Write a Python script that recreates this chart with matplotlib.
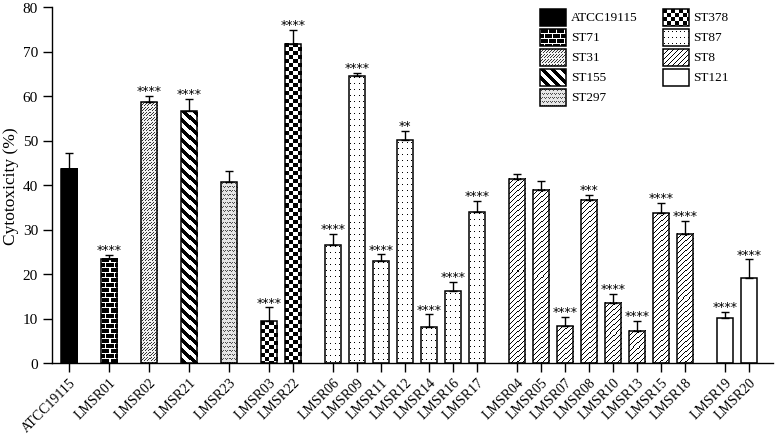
import numpy as np
import matplotlib
matplotlib.use('Agg')
import matplotlib.pyplot as plt
from matplotlib.patches import Rectangle

plt.rcParams['font.family'] = ['Liberation Serif', 'DejaVu Serif']

# ---------------- data ----------------
strains = ['ATCC19115', 'LMSR01', 'LMSR02', 'LMSR21', 'LMSR23', 'LMSR03', 'LMSR22',
           'LMSR06', 'LMSR09', 'LMSR11', 'LMSR12', 'LMSR14', 'LMSR16', 'LMSR17',
           'LMSR04', 'LMSR05', 'LMSR07', 'LMSR08', 'LMSR10', 'LMSR13', 'LMSR15', 'LMSR18',
           'LMSR19', 'LMSR20']
cytotoxicity = [43.7, 23.4, 58.6, 56.6, 40.6, 9.4, 71.7,
                26.6, 64.6, 23.0, 50.1, 8.2, 16.1, 34.0,
                41.4, 38.9, 8.3, 36.7, 13.5, 7.3, 33.7, 29.1,
                10.1, 19.2]
sd = [3.6, 0.9, 1.4, 2.7, 2.5, 3.1, 3.2,
      2.4, 0.6, 1.4, 2.1, 2.7, 2.1, 2.4,
      1.1, 1.9, 2.1, 1.1, 2.0, 2.2, 2.3, 2.8,
      1.4, 4.1]
sequence_types = ['ATCC19115', 'ST71', 'ST31', 'ST155', 'ST297', 'ST378', 'ST378',
                  'ST87', 'ST87', 'ST87', 'ST87', 'ST87', 'ST87', 'ST87',
                  'ST8', 'ST8', 'ST8', 'ST8', 'ST8', 'ST8', 'ST8', 'ST8',
                  'ST121', 'ST121']
significance = ['', '****', '****', '****', '', '****', '****',
                '****', '****', '****', '**', '****', '****', '****',
                '', '', '****', '***', '****', '****', '****', '****',
                '****', '****']
legend_col1 = ['ATCC19115', 'ST71', 'ST31', 'ST155', 'ST297']
legend_col2 = ['ST378', 'ST87', 'ST8', 'ST121']
y_ticks = [0, 10, 20, 30, 40, 50, 60, 70, 80]


# ---------------- textures ----------------
def texture(kind, nr, nc):
    nr = max(int(round(nr)), 1)
    nc = max(int(round(nc)), 1)
    r, c = np.mgrid[0:nr, 0:nc]
    arr = np.ones((nr, nc))
    if kind == 'ATCC19115':
        arr[:] = 0.0
    elif kind == 'ST71':
        arr[:] = 0.0
        course = r // 5
        arr[(r % 5) == 4] = 1.0
        arr[((c + (course % 2) * 4) % 8) == 0] = 1.0
    elif kind == 'ST31':
        m = ((r + c) % 3 == 0) & ((r % 5) != 4)
        arr[m] = 0.2
        arr[~m] = 0.95
    elif kind == 'ST155':
        arr[((c - r) % 10) < 5] = 0.0
    elif kind == 'ST297':
        rr = r % 4
        cc = (c + (r // 4 % 2) * 2) % 4
        m = ((rr == 0) & ((cc == 0) | (cc == 2))) | ((rr == 1) & (cc == 1))
        arr[m] = 0.3
        arr[~m] = 0.9
    elif kind == 'ST378':
        arr = ((r // 4 + c // 4) % 2).astype(float)
    elif kind == 'ST87':
        arr[((r % 6) == 2) & ((c % 4) == 1)] = 0.0
    elif kind == 'ST8':
        arr[((r + c) % 5) == 0] = 0.0
    return arr


# ---------------- figure ----------------
W, H = 780, 435
fig = plt.figure(figsize=(W / 100, H / 100), dpi=100)
ax_l, ax_r, ax_b, ax_t = 52, 773, 364, 8
ax = fig.add_axes([ax_l / W, (H - ax_b) / H, (ax_r - ax_l) / W, (ax_b - ax_t) / H])

# x positions: step 1 inside a group, bigger step between groups
groups = [0, 1, 2, 3, 4, 5, 5] + [6] * 7 + [7] * 8 + [8] * 2
xpos = []
cur = 0.0
for i, g in enumerate(groups):
    if i > 0:
        cur += 1.0 if g == groups[i - 1] else 5.0 / 3.0
    xpos.append(cur)
xpos = np.array(xpos)

ax.set_xlim(-0.71, xpos[-1] + 1.0)
ax.set_ylim(0, 80)

bar_w = 0.67
vals = np.array(cytotoxicity)
errs = np.array(sd)

# pixel scales
p0 = ax.transData.transform((0, 0))
p1 = ax.transData.transform((1, 1))
px_x = p1[0] - p0[0]
px_y = p1[1] - p0[1]

bars = ax.bar(xpos, vals, width=bar_w, facecolor='none', edgecolor='black',
              linewidth=1.1, zorder=3)
for x, v, st in zip(xpos, vals, sequence_types):
    img = texture(st, v * px_y, bar_w * px_x)
    ax.imshow(img, cmap='gray', vmin=0, vmax=1, interpolation='nearest',
              extent=(x - bar_w / 2, x + bar_w / 2, 0, v), origin='upper',
              aspect='auto', zorder=2)

ax.errorbar(xpos, vals, yerr=[np.zeros_like(errs), errs], fmt='none',
            ecolor='black', elinewidth=1.0, capsize=3, capthick=1.0, zorder=4)

for x, v, e, s in zip(xpos, vals, errs, significance):
    if s:
        ax.annotate(s, (x, v + e), xytext=(0, 1.2), textcoords='offset points',
                    ha='center', va='baseline', fontsize=9,
                    family=['DejaVu Sans'], zorder=5)

ax.set_xlim(-0.71, xpos[-1] + 1.0)
ax.set_ylim(0, 80)
ax.set_yticks(y_ticks)
ax.set_xticks(xpos)
ax.set_xticklabels(strains, rotation=45, ha='right', rotation_mode='anchor',
                   fontsize=10)
ax.tick_params(axis='both', length=6.5, width=1.0, color='black')
ax.tick_params(axis='y', labelsize=11)
ax.tick_params(axis='x', pad=2.5)
ax.set_ylabel('Cytotoxicity (%)', fontsize=12.5, labelpad=3)
for side in ['top', 'right']:
    ax.spines[side].set_visible(False)
for side in ['left', 'bottom']:
    ax.spines[side].set_linewidth(1.0)

# ---------------- manual legend (figure pixel coordinates) ----------------
lax = fig.add_axes([0, 0, 1, 1], zorder=10)
lax.set_xlim(0, W)
lax.set_ylim(H, 0)
lax.axis('off')
lax.patch.set_alpha(0)

box_w, box_h = 26, 17
col_specs = [(legend_col1, 540, 571), (legend_col2, 663, 693)]
row_y0 = 18
row_dy = 20
for labels, bx, tx in col_specs:
    for i, lab in enumerate(labels):
        cy = row_y0 + i * row_dy
        y0 = cy - box_h / 2
        y1 = cy + box_h / 2
        img = texture(lab, box_h, box_w)
        lax.imshow(img, cmap='gray', vmin=0, vmax=1, interpolation='nearest',
                   extent=(bx, bx + box_w, y1, y0), origin='upper', aspect='auto')
        lax.add_patch(Rectangle((bx, y0), box_w, box_h, facecolor='none',
                                edgecolor='black', linewidth=1.1))
        lax.text(tx, cy, lab, ha='left', va='center', fontsize=9.5)
lax.set_xlim(0, W)
lax.set_ylim(H, 0)

fig.savefig('out.png', dpi=100)
